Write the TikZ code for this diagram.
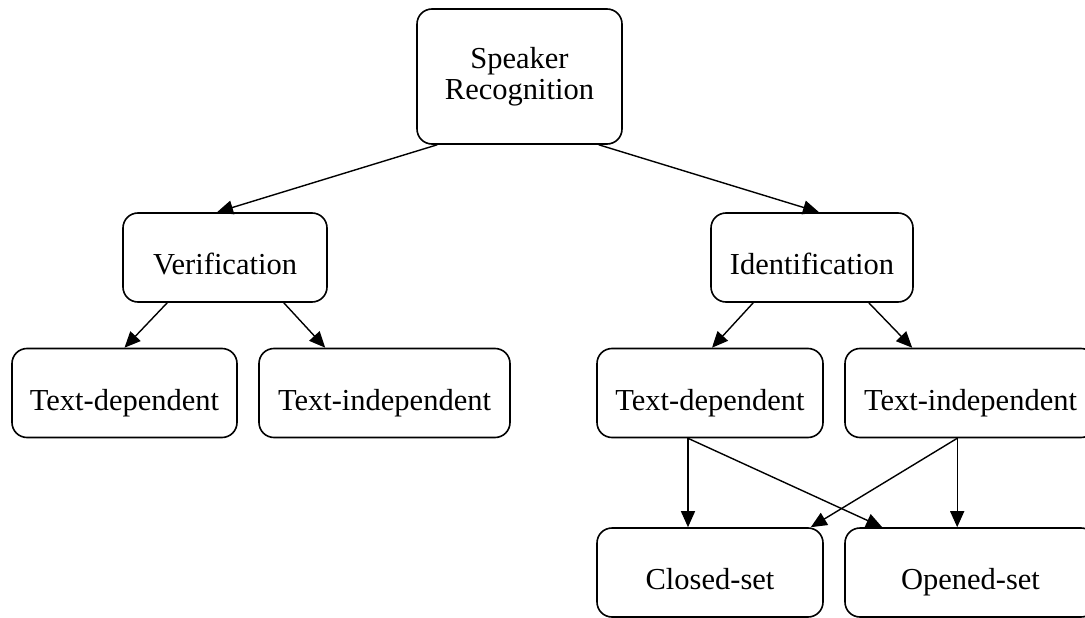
\documentclass[tikz,border=0pt]{standalone}
\usepackage{fontspec}
\setmainfont{Liberation Serif}
\usetikzlibrary{arrows.meta,calc}

\begin{document}
\begin{tikzpicture}[x=1pt,y=-1pt,font=\fontsize{30.5}{31.5}\selectfont,>={Triangle[length=16pt,width=14pt]},
  box/.style={draw,line width=1.6pt,rounded corners=15pt,inner sep=0pt,align=center,minimum height=89pt},
  onel/.style={box,text height=34pt,text depth=0pt},
  link/.style={->,line width=1.4pt}]
  \useasboundingbox (0,0) rectangle (1085,618);
  % root and the two tasks
  \node[box,minimum width=205pt,minimum height=135pt] (sr) at (519.5,76.5) {Speaker\\Recognition};
  \node[onel,minimum width=204pt] (ver) at (225,257.5) {Verification};
  \node[onel,minimum width=202pt] (ide) at (812,257.5) {Identification};
  % text modes
  \node[onel,minimum width=225pt] (tdl) at (124.5,393) {Text-dependent};
  \node[onel,minimum width=251pt] (til) at (384.5,393) {Text-independent};
  \node[onel,minimum width=226pt] (tdr) at (710,393) {Text-dependent};
  \node[onel,minimum width=251pt] (tir) at (970.5,393) {Text-independent};
  % sets
  \node[onel,minimum width=226pt] (cls) at (710,572.5) {Closed-set};
  \node[onel,minimum width=251pt] (opn) at (970.5,572.5) {Opened-set};

  \draw[link] ($(sr.south west)+(21,0)$) -- ($(ver.north)+(-8,0)$);
  \draw[link] ($(sr.south east)+(-24,0)$) -- ($(ide.north)+(7,0)$);
  \draw[link] ($(ver.south west)+(45,0)$) -- (tdl.north);
  \draw[link] ($(ver.south east)+(-44,0)$) -- ($(til.north west)+(67,0)$);
  \draw[link] ($(ide.south west)+(43,0)$) -- ($(tdr.north)+(2,0)$);
  \draw[link] ($(ide.south east)+(-45,0)$) -- ($(tir.north west)+(68,0)$);
  \draw[link] ($(tdr.south)+(-22,0)$) -- ($(cls.north)+(-22,0)$);
  \draw[link] ($(tdr.south)+(-22,0)$) -- ($(opn.north west)+(38,0)$);
  \draw[link] ($(tir.south west)+(113,0)$) -- ($(cls.north east)+(-13,0)$);
  \draw[link] ($(tir.south west)+(113,0)$) -- ($(opn.north west)+(113,0)$);
\end{tikzpicture}
\end{document}
